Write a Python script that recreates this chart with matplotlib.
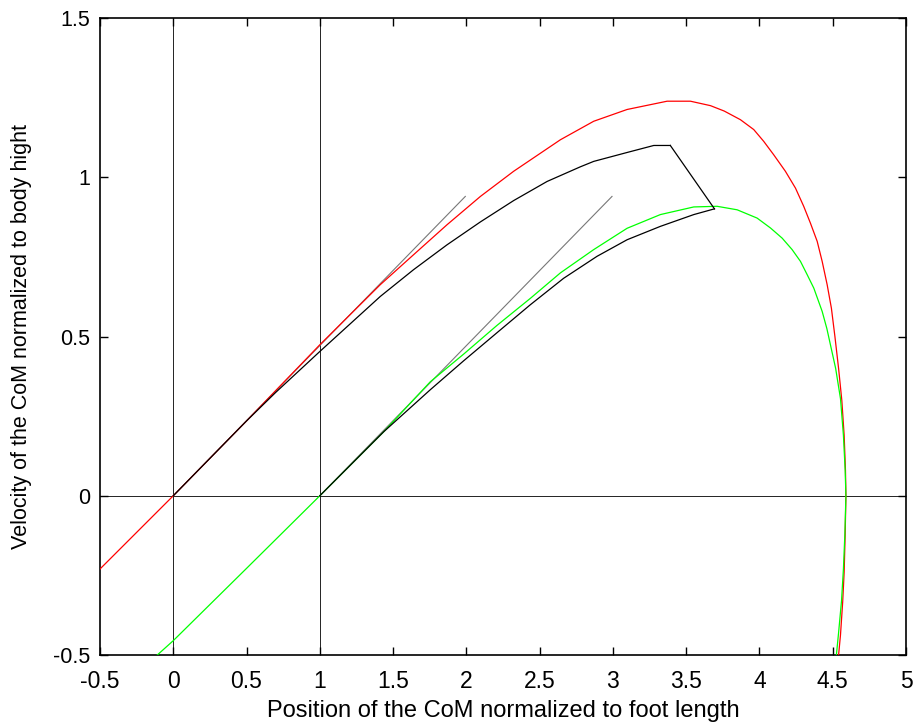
import matplotlib
matplotlib.use("Agg")
import matplotlib.pyplot as plt
from matplotlib.ticker import FormatStrFormatter

plt.rcParams["font.family"] = ["Liberation Sans", "DejaVu Sans"]
plt.rcParams["axes.unicode_minus"] = False

# phase-plane trajectory of the CoM, starting from the heel (red)
red_x = [-0.5, 0.0, 0.5, 1.0, 1.413, 1.64, 1.868, 2.096, 2.323, 2.642, 2.869, 3.097, 3.37,
         3.529, 3.666, 3.76, 3.87, 3.961, 4.029, 4.097, 4.177, 4.246, 4.302, 4.348, 4.394,
         4.428, 4.462, 4.491, 4.515, 4.54, 4.562, 4.578, 4.587, 4.59, 4.585, 4.578, 4.568,
         4.553, 4.54]
red_y = [-0.23, 0.0, 0.235, 0.474, 0.663, 0.757, 0.851, 0.94, 1.019, 1.118, 1.176, 1.213,
         1.239, 1.239, 1.225, 1.208, 1.181, 1.15, 1.113, 1.071, 1.019, 0.966, 0.909, 0.856,
         0.799, 0.736, 0.663, 0.589, 0.50, 0.40, 0.30, 0.19, 0.08, 0.0, -0.12, -0.24,
         -0.333, -0.437, -0.5]

# trajectory starting from the toe (green)
green_x = [-0.109, 0.0, 0.5, 1.0, 1.436, 1.754, 1.982, 2.209, 2.437, 2.642, 2.869, 3.097,
           3.324, 3.552, 3.711, 3.848, 3.984, 4.075, 4.155, 4.223, 4.28, 4.326, 4.371,
           4.428, 4.46, 4.52, 4.553, 4.573, 4.585, 4.59, 4.583, 4.573, 4.56, 4.54, 4.525]
green_y = [-0.5, -0.455, -0.228, 0.0, 0.201, 0.358, 0.445, 0.535, 0.62, 0.70, 0.773, 0.84,
           0.883, 0.907, 0.909, 0.898, 0.872, 0.841, 0.809, 0.773, 0.736, 0.694, 0.652,
           0.579, 0.525, 0.40, 0.305, 0.19, 0.08, 0.0, -0.12, -0.23, -0.33, -0.43, -0.5]

# measured trajectories (black), first and second phase
heel_x = [0.0, 0.5, 0.7, 1.0, 1.413, 1.64, 1.868, 2.096, 2.323, 2.551, 2.778, 2.869, 3.097,
          3.279, 3.392]
heel_y = [0.0, 0.235, 0.325, 0.453, 0.626, 0.71, 0.788, 0.86, 0.927, 0.987, 1.033, 1.05,
          1.078, 1.10, 1.10]
switch_x = [3.392, 3.693]
switch_y = [1.10, 0.901]
toe_x = [1.0, 1.436, 1.754, 1.982, 2.209, 2.437, 2.664, 2.892, 3.097, 3.324, 3.552, 3.693]
toe_y = [0.0, 0.201, 0.333, 0.424, 0.512, 0.60, 0.683, 0.752, 0.804, 0.846, 0.883, 0.901]

# tangents at the start of each phase
tangent_heel_x = [0.0, 1.993]
tangent_heel_y = [0.0, 0.94]
tangent_toe_x = [1.0, 2.994]
tangent_toe_y = [0.0, 0.94]

fig = plt.figure(figsize=(9.17, 7.23), dpi=100)
ax = fig.add_axes([0.109, 0.094, 0.879, 0.881])

# reference lines: heel, toe and zero velocity
ax.axvline(0, color="black", lw=0.6, zorder=1)
ax.axvline(1, color="black", lw=0.6, zorder=1)
ax.axhline(0, color="black", lw=0.6, zorder=1)

ax.plot(tangent_heel_x, tangent_heel_y, color="#777777", lw=0.8, zorder=2)
ax.plot(tangent_toe_x, tangent_toe_y, color="#777777", lw=0.8, zorder=2)
ax.plot(red_x, red_y, color="#ff0000", lw=0.9, zorder=3)
ax.plot(green_x, green_y, color="#00ff00", lw=0.9, zorder=3)
ax.plot(heel_x, heel_y, color="black", lw=0.9, zorder=4)
ax.plot(switch_x, switch_y, color="black", lw=0.9, zorder=4)
ax.plot(toe_x, toe_y, color="black", lw=0.9, zorder=4)

ax.set_xlim(-0.5, 5)
ax.set_ylim(-0.5, 1.5)
ax.set_xticks([-0.5, 0, 0.5, 1, 1.5, 2, 2.5, 3, 3.5, 4, 4.5, 5])
ax.set_yticks([-0.5, 0, 0.5, 1, 1.5])
ax.xaxis.set_major_formatter(FormatStrFormatter("%g"))
ax.yaxis.set_major_formatter(FormatStrFormatter("%g"))
ax.tick_params(direction="in", length=6, width=1, top=True, right=True)
ax.tick_params(axis="x", labelsize=16.5, pad=11)
ax.tick_params(axis="y", labelsize=15.5, pad=7)
for s in ax.spines.values():
    s.set_linewidth(1.2)

ax.set_xlabel("Position of the CoM normalized to foot length", fontsize=17, labelpad=5)
ax.set_ylabel("Velocity of the CoM normalized to body hight", fontsize=15.5, labelpad=15)

fig.savefig("out.png", dpi=100)
